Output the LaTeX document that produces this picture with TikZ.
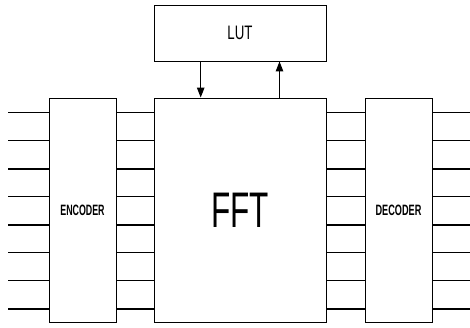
\documentclass[tikz,border=0pt]{standalone}
\usepackage{fontspec}
\setmainfont{Liberation Sans}
\usetikzlibrary{arrows.meta}
\begin{document}
\begin{tikzpicture}[x=1pt,y=-1pt,
  blk/.style={draw, line width=0.9pt, inner sep=0pt, minimum width=#1},
  wire/.style={line width=1.1pt},
  flow/.style={line width=1.1pt, -{Triangle[length=10pt,width=7.5pt]}}]
\useasboundingbox (0,0) rectangle (470,327);
\node[blk=172pt, minimum height=56pt] (lut) at (240,33)
  {\fontsize{19.5}{20}\selectfont\scalebox{0.68}[1]{LUT}};
\node[blk=172pt, minimum height=224pt] (fft) at (240,210)
  {\fontsize{50}{50}\selectfont\scalebox{0.63}[1]{FFT}};
\node[blk=67pt, minimum height=224pt] (enc) at (82.5,210)
  {\fontsize{15}{15}\selectfont\bfseries\scalebox{0.59}[1]{ENCODER}};
\node[blk=67pt, minimum height=224pt] (dec) at (398.5,210)
  {\fontsize{15}{15}\selectfont\bfseries\scalebox{0.61}[1]{DECODER}};
\foreach \i/\y in {1/112.7,2/140.7,3/169,4/196.7,5/225,6/252.7,7/280.7,8/309} {
  \coordinate (in\i) at (8,\y);
  \coordinate (out\i) at (470,\y);
  \draw[wire] (in\i) -- (enc.west |- in\i);
  \draw[wire] (enc.east |- in\i) -- (fft.west |- in\i);
  \draw[wire] (fft.east |- in\i) -- (dec.west |- in\i);
  \draw[wire] (dec.east |- in\i) -- (out\i);
}
\coordinate (dx) at (200.7,0);
\coordinate (ux) at (279.5,0);
\draw[flow] (lut.south -| dx) -- (fft.north -| dx);
\draw[flow] (fft.north -| ux) -- (lut.south -| ux);
\end{tikzpicture}
\end{document}
